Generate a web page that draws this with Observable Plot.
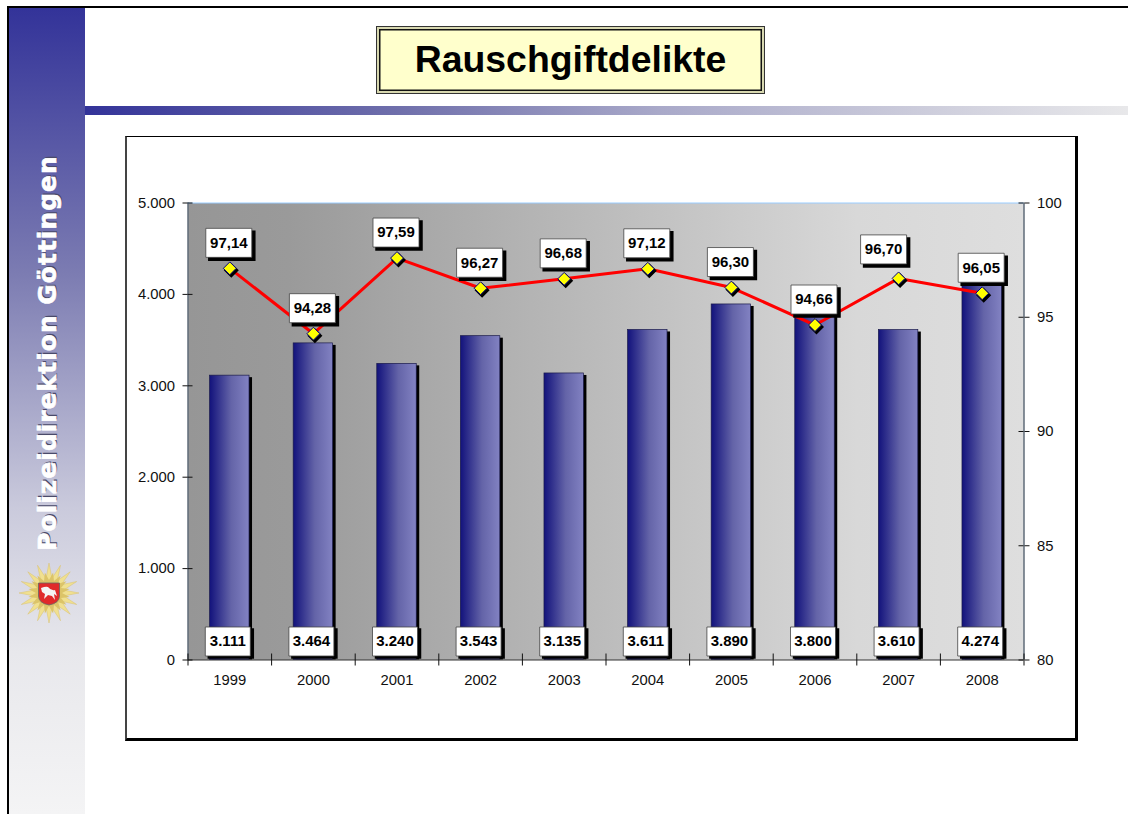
<!DOCTYPE html>
<html lang="de">
<head>
<meta charset="utf-8">
<title>Rauschgiftdelikte</title>
<script src="https://cdn.jsdelivr.net/npm/d3@7"></script>
<script src="https://cdn.jsdelivr.net/npm/@observablehq/plot@0.6"></script>
<style>
  html, body { margin: 0; padding: 0; background: #fff; width: 1128px; height: 814px; overflow: hidden; font-family: "Liberation Sans", Arial, sans-serif; }
  .deco { position: absolute; box-sizing: border-box; }
  #topline { left: 7px; top: 6px; width: 1121px; height: 2px; background: #000; }
  #leftline { left: 7px; top: 6px; width: 2px; height: 808px; background: #000; }
  #side { left: 9px; top: 8px; width: 76px; height: 806px; background: linear-gradient(180deg, #333399 0%, #7c7cb2 33%, #cacadc 62%, #e8e8ec 80%, #f4f4f5 100%); }
  #band { left: 85px; top: 106px; width: 1043px; height: 9px; background: linear-gradient(90deg, #333399 0%, #6f6fab 30%, #a9a9c9 55%, #e8e8ea 100%); }
  #sidetext { left: 47px; top: 352.5px; width: 0; height: 0; }
  #sidetext span { position: absolute; left: 0; top: 0; transform: translate(-50%, -50%) rotate(-90deg); white-space: nowrap; font: bold 24.8px "DejaVu Sans", Verdana, sans-serif; letter-spacing: 1.1px; color: #fff; -webkit-text-stroke: 0.7px #fff; text-shadow: 1.5px 1.5px 0 #4a4a6a; }
  #titlebox { left: 376px; top: 26px; width: 389px; height: 68px; background: #ffffcc; border: 1px solid #333; box-shadow: inset 0 0 0 2px #d8d8b0, inset 0 0 0 3.5px #111; display: flex; align-items: center; justify-content: center; font: bold 37.4px "Liberation Sans", Arial, sans-serif; color: #000; padding-bottom: 2px; }
  #chartframe { left: 125px; top: 136px; width: 953px; height: 605px; background: #fff; border-style: solid; border-color: #000 #000 #000 #444; border-width: 1.5px 3px 3.5px 2px; }
  #emblem { left: 17px; top: 563px; }
  #chart { position: absolute; left: 0; top: 0; }
  #chart svg { display: block; background: transparent; }
</style>
</head>
<body>
<div class="deco" id="topline"></div>
<div class="deco" id="side"></div>
<div class="deco" id="leftline"></div>
<div class="deco" id="band"></div>
<div class="deco" id="sidetext"><span>Polizeidirektion Göttingen</span></div>
<div class="deco" id="titlebox">Rauschgiftdelikte</div>
<div class="deco" id="chartframe"></div>
<div class="deco" id="emblem"></div>
<div id="chart"></div>
<script>
const years = [1999, 2000, 2001, 2002, 2003, 2004, 2005, 2006, 2007, 2008];
const cases = [3111, 3464, 3240, 3543, 3135, 3611, 3890, 3800, 3610, 4274];
const caseLabels = ["3.111", "3.464", "3.240", "3.543", "3.135", "3.611", "3.890", "3.800", "3.610", "4.274"];
const rates = [97.14, 94.28, 97.59, 96.27, 96.68, 97.12, 96.30, 94.66, 96.70, 96.05];
const rateLabels = ["97,14", "94,28", "97,59", "96,27", "96,68", "97,12", "96,30", "94,66", "96,70", "96,05"];
const leftTicks = [0, 1000, 2000, 3000, 4000, 5000];
const leftTickLabels = ["0", "1.000", "2.000", "3.000", "4.000", "5.000"];
const rightTicks = [80, 85, 90, 95, 100];

const rows = years.map((year, i) => ({year, cases: cases[i], caseLabel: caseLabels[i], rate: rates[i], rateLabel: rateLabels[i]}));
const rateToY = r => (r - 80) / 20 * 5000;
const edges = [...years.map(y => y - 0.5), 2008.5];
const barW = 0.236;
const font = {fontFamily: "'Liberation Sans', Arial, sans-serif"};

const box = (w, h) => ({draw(c) { c.rect(-w / 2, -h / 2, w, h); }});
const rateBox = box(46, 29);
const caseBox = box(45, 29);

const stops = (g, list) => list.forEach(([o, c]) => g.append("stop").attr("offset", o).attr("stop-color", c));
const defs = () => {
  const s = d3.create("svg:g");
  const d = s.append("defs");
  stops(d.append("linearGradient").attr("id", "plotBg"), [["0%", "#969696"], ["12%", "#9a9a9a"], ["50%", "#bcbcbc"], ["80%", "#d8d8d8"], ["100%", "#dedede"]]);
  stops(d.append("linearGradient").attr("id", "barFill"), [["0%", "#12127c"], ["55%", "#6464a8"], ["100%", "#8282c2"]]);
  return s.node();
};

const normal = rows.filter(d => d.year !== 2007);
const shifted = rows.filter(d => d.year === 2007);
const rateBoxMarks = (data, dx, dy) => [
  Plot.dot(data, {x: "year", y: d => rateToY(d.rate), symbol: rateBox, r: 5, fill: "#000", stroke: "#000", dx: dx + 3, dy: dy + 3}),
  Plot.dot(data, {x: "year", y: d => rateToY(d.rate), symbol: rateBox, r: 5, fill: "#fff", stroke: "#444", strokeWidth: 0.8, dx, dy}),
  Plot.text(data, {x: "year", y: d => rateToY(d.rate), text: "rateLabel", dx, dy, fontSize: 15, fontWeight: "bold", fill: "#000", ...font})
];

const plot = Plot.plot({
  width: 1128,
  height: 814,
  marginLeft: 187.5,
  marginRight: 104.5,
  marginTop: 202.5,
  marginBottom: 154.5,
  style: {background: "transparent", ...font, fontSize: "14.8px", color: "#111"},
  x: {type: "linear", domain: [1998.5, 2008.5], axis: null},
  y: {domain: [0, 5000], axis: null},
  marks: [
    defs,
    Plot.frame({fill: "url(#plotBg)", stroke: "none"}),
    Plot.ruleX([1998.5, 2008.5], {stroke: "#5f6b78", strokeWidth: 1.5}),
    Plot.ruleY([5000], {stroke: "#99ccff", strokeWidth: 1}),
    Plot.rectY(rows, {x1: d => d.year - barW, x2: d => d.year + barW, y1: 0, y2: "cases", fill: "#000", dx: 3, dy: 2, insetBottom: 2}),
    Plot.rectY(rows, {x1: d => d.year - barW, x2: d => d.year + barW, y1: 0, y2: "cases", fill: "url(#barFill)", stroke: "#1a1a4a", strokeWidth: 0.7}),
    Plot.ruleY([0], {stroke: "#333", strokeWidth: 1}),
    Plot.ruleX(edges, {y1: 0, y2: 0, insetTop: -6, insetBottom: -6, stroke: "#111", strokeWidth: 1}),
    Plot.ruleY(leftTicks, {x1: 1998.5, x2: 1998.5, insetRight: -5, stroke: "#111"}),
    Plot.ruleY(rightTicks.map(rateToY), {x1: 2008.5, x2: 2008.5, insetLeft: -5, stroke: "#111"}),
    Plot.axisY(leftTicks, {anchor: "left", tickSize: 5, tickPadding: 8, tickFormat: d => leftTickLabels[leftTicks.indexOf(d)], label: null, stroke: "#111"}),
    Plot.axisY(rightTicks.map(rateToY), {anchor: "right", tickSize: 5, tickPadding: 8, tickFormat: d => String(rightTicks[rightTicks.map(rateToY).indexOf(d)]), label: null, stroke: "#111"}),
    Plot.axisX(years, {anchor: "bottom", tickSize: 0, tickPadding: 14, tickFormat: d => String(d), label: null}),
    Plot.line(rows, {x: "year", y: d => rateToY(d.rate), stroke: "#ff0000", strokeWidth: 3}),
    Plot.dot(rows, {x: "year", y: d => rateToY(d.rate), symbol: "diamond2", r: 5.8, fill: "#000", stroke: "#000", dx: 1.5, dy: 2}),
    Plot.dot(rows, {x: "year", y: d => rateToY(d.rate), symbol: "diamond2", r: 5.8, fill: "#ffff00", stroke: "#000080", strokeWidth: 1}),
    ...rateBoxMarks(normal, -1, -25.5),
    ...rateBoxMarks(shifted, -15, -29),
    Plot.dot(rows, {x: "year", y: 0, symbol: caseBox, r: 5, fill: "#000", stroke: "#000", dx: 1, dy: -16.5}),
    Plot.dot(rows, {x: "year", y: 0, symbol: caseBox, r: 5, fill: "#fff", stroke: "#444", strokeWidth: 0.8, dx: -2, dy: -18.5}),
    Plot.text(rows, {x: "year", y: 0, text: "caseLabel", dx: -2, dy: -18.5, fontSize: 15, fontWeight: "bold", fill: "#000", ...font})
  ]
});
document.getElementById("chart").append(plot);

// Polizeistern (decorative badge beside the chart)
const emblem = d3.select("#emblem").append("svg").attr("width", 64).attr("height", 60).attr("viewBox", "-32 -30 64 60");
const star = (n, ro, ri, rot = 0) => d3.range(n * 2).map(i => {
  const a = rot + i * Math.PI / n, r = i % 2 ? ri : ro;
  return [r * Math.cos(a), r * Math.sin(a)].join(",");
}).join(" ");
emblem.append("polygon").attr("points", star(16, 30, 15, 0)).attr("fill", "#f0e090").attr("stroke", "#d8c070").attr("stroke-width", 0.5);
emblem.append("polygon").attr("points", star(16, 21, 13, Math.PI / 16)).attr("fill", "#dcc468");
emblem.append("path").attr("d", "M-10.5,-10 H10.5 V3 Q10.5,10 0,12 Q-10.5,10 -10.5,3 Z").attr("fill", "#e02a2a").attr("stroke", "#666").attr("stroke-width", 0.8);
emblem.append("path").attr("d", "M-8,-5 Q-3,-7 -1,-6 Q2,-2 6,-3 L8,3 L5,1 L6,7 L3,3 L-1,2 L-5,6 L-4,1 L-7,-1 Z").attr("fill", "#f4f4f4");
</script>
</body>
</html>
